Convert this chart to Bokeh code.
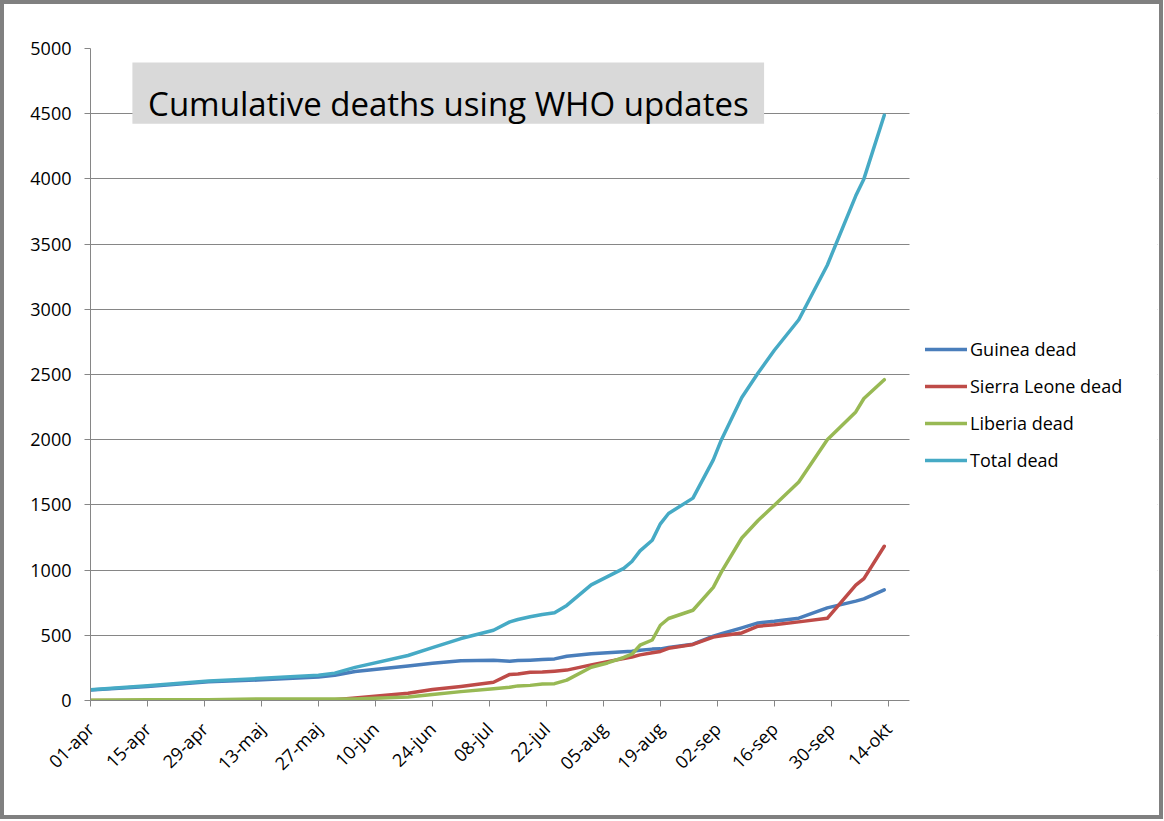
import math
import pandas as pd
from bokeh.plotting import figure
from bokeh.models import Range1d, FixedTicker, Legend, LegendItem, BoxAnnotation, Label
from bokeh.embed import file_html
from bokeh.resources import INLINE

# ---------------- data ----------------
dates = ["2014-04-01", "2014-04-15", "2014-04-30", "2014-05-12", "2014-05-27",
         "2014-05-31", "2014-06-05", "2014-06-18", "2014-06-24", "2014-07-01",
         "2014-07-09", "2014-07-13", "2014-07-15", "2014-07-18", "2014-07-21",
         "2014-07-24", "2014-07-27", "2014-08-02", "2014-08-06", "2014-08-10",
         "2014-08-12", "2014-08-14", "2014-08-17", "2014-08-19", "2014-08-21",
         "2014-08-27", "2014-09-01", "2014-09-03", "2014-09-08", "2014-09-12",
         "2014-09-16", "2014-09-22", "2014-09-29", "2014-10-06", "2014-10-08",
         "2014-10-13"]
guinea = [80, 108, 143, 157, 180, 193, 222, 265, 285, 304,
          309, 301, 306, 309, 314, 319, 339, 358, 367, 373,
          377, 385, 394, 396, 406, 432, 493, 512, 557, 595,
          607, 631, 710, 762, 779, 848]
sierra_leone = [0, 0, 0, 0, 3, 6, 20, 56, 84, 108,
                140, 200, 203, 217, 219, 225, 233, 273, 298, 322,
                334, 350, 366, 376, 400, 430, 486, 497, 518, 570,
                581, 603, 630, 884, 935, 1183]
liberia = [2, 6, 6, 11, 11, 11, 12, 26, 46, 68,
           90, 102, 112, 116, 127, 129, 156, 255, 288, 330,
           355, 424, 464, 577, 629, 692, 868, 986, 1246, 1380,
           1498, 1676, 2000, 2213, 2316, 2460]
total = [82, 114, 149, 168, 194, 210, 254, 345, 405, 475,
         539, 603, 621, 642, 660, 673, 729, 887, 950, 1013,
         1066, 1147, 1229, 1355, 1434, 1552, 1845, 2000, 2324, 2512,
         2686, 2920, 3338, 3870, 4000, 4488]

tick_dates = ["2014-04-01", "2014-04-15", "2014-04-29", "2014-05-13", "2014-05-27",
              "2014-06-10", "2014-06-24", "2014-07-08", "2014-07-22", "2014-08-05",
              "2014-08-19", "2014-09-02", "2014-09-16", "2014-09-30", "2014-10-14"]
tick_labels = ["01-apr", "15-apr", "29-apr", "13-maj", "27-maj", "10-jun", "24-jun",
               "08-jul", "22-jul", "05-aug", "19-aug", "02-sep", "16-sep", "30-sep", "14-okt"]
y_ticks = [0, 500, 1000, 1500, 2000, 2500, 3000, 3500, 4000, 4500, 5000]

series_names = ["Guinea dead", "Sierra Leone dead", "Liberia dead", "Total dead"]
series_colors = ["#4A7EBB", "#BE4B48", "#98B954", "#46AAC5"]

title_text = "Cumulative deaths using WHO updates"

# ---------------- build ----------------
start = pd.Timestamp(dates[0])
days = [(pd.Timestamp(d) - start).days for d in dates]
tick_days = [(pd.Timestamp(d) - start).days for d in tick_dates]

FONT = "Open Sans"
W, H = 1155, 811
LEFT, TOP, BOTTOM, RIGHT = 86, 44, 115, 2
X_AXIS_END = 201.2                 # day where the drawn plot area ends
PLOT_W = 819                       # pixel width of the drawn plot area
frame_w = W - LEFT - RIGHT
x_end = X_AXIS_END * frame_w / PLOT_W

p = figure(width=W, height=H, output_backend="svg", toolbar_location=None,
           x_range=Range1d(0, x_end), y_range=Range1d(0, 5000),
           min_border_left=LEFT, min_border_right=RIGHT, min_border_top=TOP,
           min_border_bottom=BOTTOM)
p.styles = {"box-shadow": "0 0 0 4px #808080", "margin-left": "4px", "margin-top": "4px"}
p.outline_line_color = None
p.background_fill_color = "white"
p.border_fill_color = "white"

# grid
p.xgrid.grid_line_color = None
p.ygrid.grid_line_color = "#868686"
p.ygrid.grid_line_width = 1
p.ygrid.ticker = FixedTicker(ticks=y_ticks)

# axes
p.xaxis.ticker = FixedTicker(ticks=tick_days)
p.xaxis.bounds = (0, X_AXIS_END)
p.xaxis.major_label_overrides = {d: lab for d, lab in zip(tick_days, tick_labels)}
p.xaxis.major_label_orientation = math.pi / 4
p.yaxis.ticker = FixedTicker(ticks=y_ticks)
p.yaxis.major_label_overrides = {v: str(v) for v in y_ticks}
for ax in (p.xaxis[0], p.yaxis[0]):
    ax.axis_line_color = "#868686"
    ax.major_tick_line_color = "#868686"
    ax.major_tick_in = 0
    ax.major_tick_out = 6
    ax.minor_tick_line_color = None
    ax.major_label_text_font = FONT
    ax.major_label_text_font_size = "18px"
    ax.major_label_text_color = "#000000"
p.yaxis.major_label_standoff = 13
p.xaxis.major_label_standoff = 19

# lines
renderers = []
for vals, color in zip([guinea, sierra_leone, liberia, total], series_colors):
    r = p.line(days, vals, line_color=color, line_width=3.5, line_join="round", line_cap="round")
    renderers.append(r)

# white cover for the legend area (right of the plot area)
cover = BoxAnnotation(left=X_AXIS_END, fill_color="white", fill_alpha=1.0, line_color=None)
p.add_layout(cover)

legend = Legend(items=[LegendItem(label=n, renderers=[r]) for n, r in zip(series_names, renderers)],
                location=(835, 228), orientation="vertical")
legend.border_line_color = None
legend.background_fill_alpha = 0
legend.padding = 0
legend.margin = 0
legend.spacing = 13
legend.glyph_width = 42
legend.glyph_height = 20
legend.label_height = 20
legend.label_standoff = 3
legend.label_text_font = FONT
legend.label_text_font_size = "18px"
legend.label_text_color = "#000000"
p.add_layout(legend)

# title box (in data space of the plot area)
px_per_day = PLOT_W / X_AXIS_END
px_per_unit = 652 / 5000
def dx(px):
    return (px - 90.4) / px_per_day
def dy(py):
    return (700.3 - py) / px_per_unit

box = BoxAnnotation(left=dx(132.3), right=dx(764), top=dy(62.3), bottom=dy(123.5),
                    fill_color="#D9D9D9", fill_alpha=1.0, line_color=None)
p.add_layout(box)
lab = Label(x=dx(148), y=dy(103.3), text=title_text, text_font=FONT,
            text_font_size="33px", text_color="#000000", text_baseline="alphabetic",
            text_align="left")
p.add_layout(lab)

open("out.html", "w").write(file_html(p, INLINE))
